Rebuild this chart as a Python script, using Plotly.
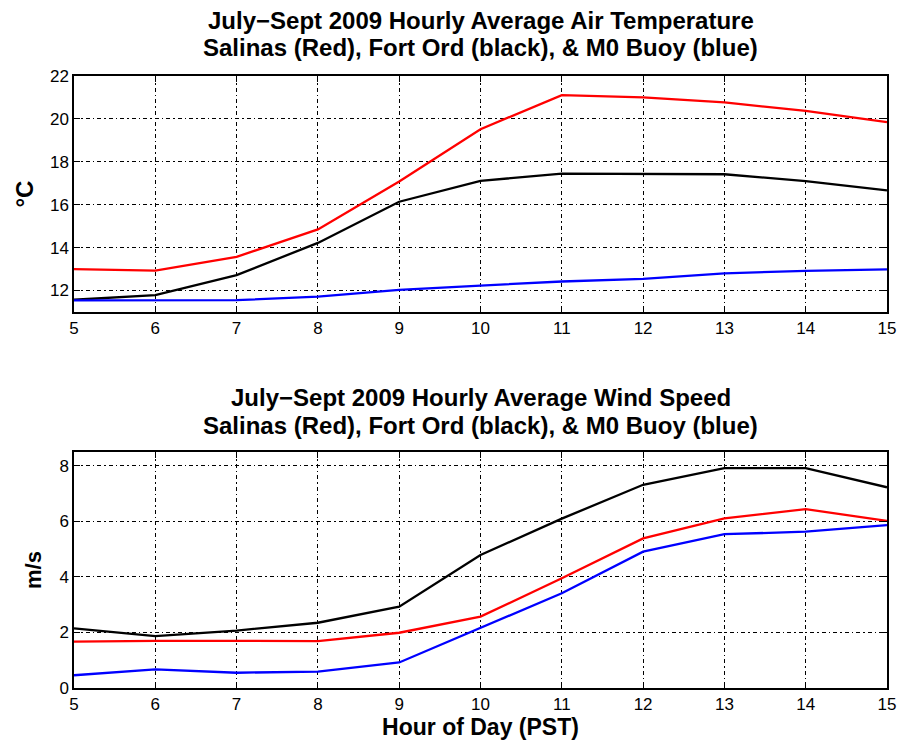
import plotly.graph_objects as go
from plotly.subplots import make_subplots

hours = [5, 6, 7, 8, 9, 10, 11, 12, 13, 14, 15]

temp_salinas = [13.0, 12.93, 13.57, 14.85, 17.08, 19.52, 21.11, 21.0, 20.77, 20.37, 19.85]
temp_fortord = [11.57, 11.79, 12.72, 14.22, 16.14, 17.11, 17.45, 17.42, 17.42, 17.1, 16.67]
temp_m0 = [11.54, 11.53, 11.55, 11.72, 12.03, 12.23, 12.42, 12.54, 12.8, 12.92, 12.99]

wind_salinas = [1.67, 1.7, 1.7, 1.69, 1.99, 2.57, 3.95, 5.39, 6.11, 6.44, 6.02]
wind_fortord = [2.15, 1.87, 2.07, 2.35, 2.93, 4.79, 6.1, 7.32, 7.92, 7.92, 7.23]
wind_m0 = [0.46, 0.67, 0.55, 0.59, 0.92, 2.17, 3.41, 4.91, 5.54, 5.63, 5.87]

temp_ticks = [12, 14, 16, 18, 20, 22]
wind_ticks = [0, 2, 4, 6, 8]
hour_ticks = hours

title_top = ["July\u2212Sept 2009 Hourly Average Air Temperature",
             "Salinas (Red), Fort Ord (black), & M0 Buoy (blue)"]
title_bot = ["July\u2212Sept 2009 Hourly Average Wind Speed",
             "Salinas (Red), Fort Ord (black), & M0 Buoy (blue)"]

FONT = "Liberation Sans, Arial, sans-serif"

fig = make_subplots(rows=2, cols=1, vertical_spacing=0.0)

series = [
    (temp_salinas, wind_salinas, "#ff0000"),
    (temp_fortord, wind_fortord, "#000000"),
    (temp_m0, wind_m0, "#0000ff"),
]
for t, w, c in series:
    fig.add_trace(go.Scatter(x=hours, y=t, mode="lines", line=dict(color=c, width=2.3),
                             showlegend=False), row=1, col=1)
    fig.add_trace(go.Scatter(x=hours, y=w, mode="lines", line=dict(color=c, width=2.3),
                             showlegend=False), row=2, col=1)

axis_common = dict(
    showline=True, linecolor="black", linewidth=1.5, mirror="ticks",
    ticks="inside", ticklen=6, tickwidth=1.2, tickcolor="black",
    showgrid=True, gridcolor="black", gridwidth=1, griddash="4px,3px,1.5px,3px",
    zeroline=False,
    tickfont=dict(family=FONT, size=17, color="black"),
)

fig.update_layout(
    width=908, height=744,
    margin=dict(l=74, r=15, t=76, b=56),
    plot_bgcolor="white", paper_bgcolor="white",
    font=dict(family=FONT, color="black"),
)

fig.update_xaxes(**axis_common, range=[5, 15], tickvals=hour_ticks)
fig.update_yaxes(**axis_common)
fig.update_layout(
    xaxis=dict(domain=[0, 1], anchor="y"),
    yaxis=dict(domain=[0.6144, 1.0], range=[11, 22], tickvals=temp_ticks,
               title=dict(text="<b>\u00b0C</b>", font=dict(family=FONT, size=24), standoff=10)),
    xaxis2=dict(domain=[0, 1], anchor="y2",
                title=dict(text="<b>Hour of Day (PST)</b>", font=dict(family=FONT, size=23), standoff=2)),
    yaxis2=dict(domain=[0.0, 0.3856], range=[0, 8.5], tickvals=wind_ticks,
                title=dict(text="<b>m/s</b>", font=dict(family=FONT, size=22), standoff=12)),
)

for lines, ys in ((title_top, (20, 48)), (title_bot, (397, 425))):
    for txt, ypx in zip(lines, ys):
        fig.add_annotation(
            text="<b>" + txt + "</b>", xref="paper", yref="paper",
            x=0.5, y=(688 - ypx) / 612, xanchor="center", yanchor="middle",
            showarrow=False, font=dict(family=FONT, size=24, color="black"),
        )

fig.write_html("out.html")
